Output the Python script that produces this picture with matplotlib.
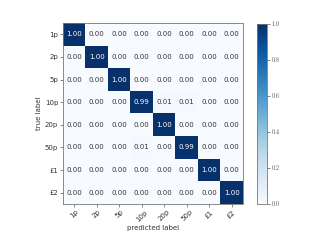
import numpy as np
import matplotlib
matplotlib.use("Agg")
import matplotlib.pyplot as plt

labels = ["1p", "2p", "5p", "10p", "20p", "50p", "£1", "£2"]
row_1p = [1.00, 0.00, 0.00, 0.00, 0.00, 0.00, 0.00, 0.00]
row_2p = [0.00, 1.00, 0.00, 0.00, 0.00, 0.00, 0.00, 0.00]
row_5p = [0.00, 0.00, 1.00, 0.00, 0.00, 0.00, 0.00, 0.00]
row_10p = [0.00, 0.00, 0.00, 0.99, 0.01, 0.01, 0.00, 0.00]
row_20p = [0.00, 0.00, 0.00, 0.00, 1.00, 0.00, 0.00, 0.00]
row_50p = [0.00, 0.00, 0.00, 0.01, 0.00, 0.99, 0.00, 0.00]
row_1 = [0.00, 0.00, 0.00, 0.00, 0.00, 0.00, 1.00, 0.00]
row_2 = [0.00, 0.00, 0.00, 0.00, 0.00, 0.00, 0.00, 1.00]

cm = np.array([row_1p, row_2p, row_5p, row_10p, row_20p, row_50p, row_1, row_2])

fig = plt.figure(figsize=(3.2, 2.4), dpi=100)
ax = fig.add_axes([0.197, 0.15, 0.562, 0.754])
cax = fig.add_axes([0.803, 0.15, 0.031, 0.75])

im = ax.imshow(cm, cmap="Blues", vmin=0, vmax=1, aspect="auto", interpolation="nearest")
for i in range(cm.shape[0]):
    for j in range(cm.shape[1]):
        v = cm[i, j]
        ax.text(j, i, f"{v:.2f}", ha="center", va="center", fontsize=5,
                color="white" if v > 0.5 else "#333333")

ax.set_xticks(range(len(labels)))
ax.set_yticks(range(len(labels)))
ax.set_xticklabels(labels, rotation=45, fontsize=5, color="#333333")
ax.set_yticklabels(labels, fontsize=5, color="#333333")
ax.tick_params(length=2, width=0.5, colors="#555555", labelcolor="#333333", pad=1.5)
ax.set_xlabel("predicted label", fontsize=5, color="#333333", labelpad=2)
ax.set_ylabel("true label", fontsize=5, color="#333333", labelpad=2)
for s in ax.spines.values():
    s.set_color("#777777")
    s.set_linewidth(0.6)

cb = fig.colorbar(im, cax=cax)
cb.set_ticks([0.0, 0.2, 0.4, 0.6, 0.8, 1.0])
cb.ax.tick_params(labelsize=4.5, length=2, width=0.5, colors="#555555", pad=1.5)
for t in cb.ax.get_yticklabels():
    t.set_family(["cmr10", "DejaVu Serif"])
cb.outline.set_edgecolor("#777777")
cb.outline.set_linewidth(0.6)

fig.savefig("out.png", dpi=100)
